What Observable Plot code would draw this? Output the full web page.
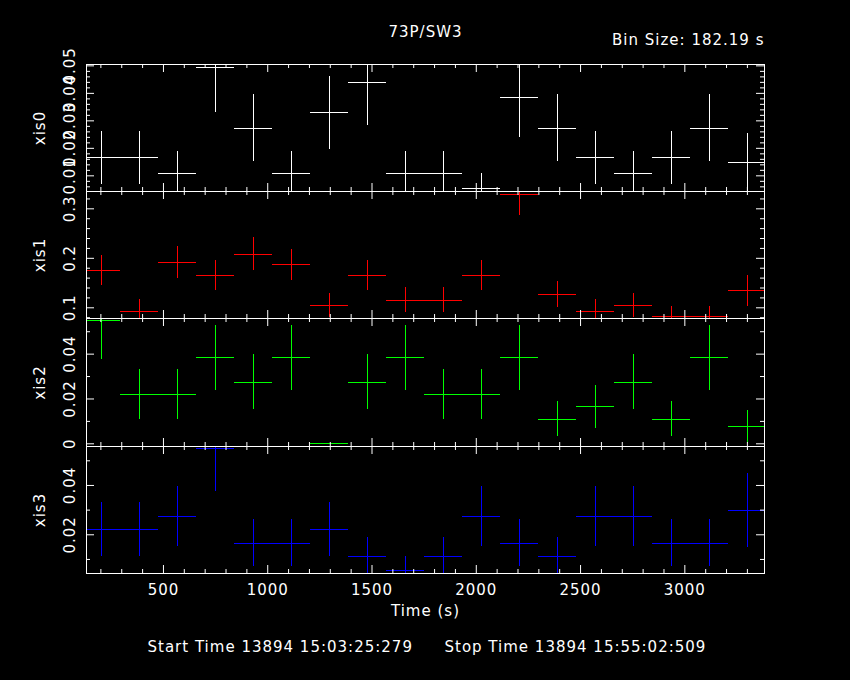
<!DOCTYPE html>
<html>
<head>
<meta charset="utf-8">
<script src="https://cdn.jsdelivr.net/npm/d3@7"></script>
<script src="https://cdn.jsdelivr.net/npm/@observablehq/plot@0.6"></script>
<style>
  html, body { margin: 0; padding: 0; background: #000; }
  #chart { position: relative; width: 850px; height: 680px; background: #000; overflow: hidden; }
</style>
</head>
<body>
<div id="chart"></div>
<script>
// ---------------- data ----------------
const titleText = "73P/SW3";
const binSizeText = "Bin Size: 182.19 s";
const startText = "Start Time 13894 15:03:25:279";
const stopText = "Stop Time 13894 15:55:02:509";
const xTitle = "Time (s)";

const binTimes = [204, 386, 568, 751, 933, 1115, 1297, 1479, 1661, 1844, 2026, 2208, 2390, 2572, 2755, 2937, 3119, 3301];
const binHalfWidth = 91.1;

const xis0Rate = [0.0165, 0.0165, 0.0110, 0.0494, 0.0274, 0.0110, 0.0329, 0.0439, 0.0110, 0.0110, 0.0055, 0.0384, 0.0274, 0.0165, 0.0110, 0.0165, 0.0274, 0.0149];
const xis0Err  = [0.0095, 0.0095, 0.0078, 0.0165, 0.0123, 0.0078, 0.0134, 0.0155, 0.0078, 0.0078, 0.0055, 0.0145, 0.0123, 0.0095, 0.0078, 0.0095, 0.0123, 0.0106];

const xis1Rate = [0.1756, 0.0933, 0.1921, 0.1647, 0.2086, 0.1866, 0.1043, 0.1647, 0.1153, 0.1153, 0.1647, 0.3293, 0.1262, 0.0933, 0.1043, 0.0823, 0.0823, 0.1343];
const xis1Err  = [0.0310, 0.0226, 0.0325, 0.0301, 0.0338, 0.0320, 0.0239, 0.0301, 0.0252, 0.0252, 0.0301, 0.0425, 0.0263, 0.0226, 0.0239, 0.0213, 0.0213, 0.0317];

const xis2Rate = [0.0549, 0.0220, 0.0220, 0.0384, 0.0274, 0.0384, 0.0000, 0.0274, 0.0384, 0.0220, 0.0220, 0.0384, 0.0110, 0.0165, 0.0274, 0.0110, 0.0384, 0.0075];
const xis2Err  = [0.0174, 0.0110, 0.0110, 0.0145, 0.0123, 0.0145, 0.0000, 0.0123, 0.0145, 0.0110, 0.0110, 0.0145, 0.0078, 0.0095, 0.0123, 0.0078, 0.0145, 0.0075];

const xis3Rate = [0.0220, 0.0220, 0.0274, 0.0549, 0.0165, 0.0165, 0.0220, 0.0110, 0.0055, 0.0110, 0.0274, 0.0165, 0.0110, 0.0274, 0.0274, 0.0165, 0.0165, 0.0299];
const xis3Err  = [0.0110, 0.0110, 0.0123, 0.0174, 0.0095, 0.0095, 0.0110, 0.0078, 0.0055, 0.0078, 0.0123, 0.0095, 0.0078, 0.0123, 0.0123, 0.0095, 0.0095, 0.0149];

const xMajor = [500, 1000, 1500, 2000, 2500, 3000];
const xMajorLabels = ["500", "1000", "1500", "2000", "2500", "3000"];
const xMinor = [200, 300, 400, 600, 700, 800, 900, 1100, 1200, 1300, 1400, 1600, 1700, 1800, 1900, 2100, 2200, 2300, 2400, 2600, 2700, 2800, 2900, 3100, 3200, 3300];

const xis0Major = [0.01, 0.02, 0.03, 0.04, 0.05];
const xis0Labels = ["0.01", "0.02", "0.03", "0.04", "0.05"];
const xis0Minor = [0.006, 0.008, 0.012, 0.014, 0.016, 0.018, 0.022, 0.024, 0.026, 0.028, 0.032, 0.034, 0.036, 0.038, 0.042, 0.044, 0.046, 0.048];

const xis1Major = [0.1, 0.2, 0.3];
const xis1Labels = ["0.1", "0.2", "0.3"];
const xis1Minor = [0.08, 0.12, 0.14, 0.16, 0.18, 0.22, 0.24, 0.26, 0.28, 0.32];

const xis2Major = [0, 0.02, 0.04];
const xis2Labels = ["0", "0.02", "0.04"];
const xis2Minor = [0.01, 0.03, 0.05];

const xis3Major = [0.02, 0.04];
const xis3Labels = ["0.02", "0.04"];
const xis3Minor = [0.01, 0.03, 0.05];

// ---------------- layout ----------------
const W = 850, H = 680;
const frameLeft = 86, frameRight = 764;
const panelEdges = [64, 191, 318, 446, 573];
const xDomain = [131, 3382];
const font = "'DejaVu Sans', sans-serif";
const fs = 15;

const panels = [
  {name: "xis0", color: "#ffffff", rate: xis0Rate, err: xis0Err, domain: [0.0043, 0.0505], major: xis0Major, labels: xis0Labels, minor: xis0Minor},
  {name: "xis1", color: "#ff0000", rate: xis1Rate, err: xis1Err, domain: [0.0784, 0.335], major: xis1Major, labels: xis1Labels, minor: xis1Minor},
  {name: "xis2", color: "#00ff00", rate: xis2Rate, err: xis2Err, domain: [-0.0012, 0.0559], major: xis2Major, labels: xis2Labels, minor: xis2Minor},
  {name: "xis3", color: "#0000ff", rate: xis3Rate, err: xis3Err, domain: [0.0043, 0.0558], major: xis3Major, labels: xis3Labels, minor: xis3Minor}
];

const chart = document.getElementById("chart");
const plotW = frameRight - frameLeft;
const txt = {fill: "white", fontSize: fs, fontFamily: font, fontWeight: 400};

panels.forEach((p, i) => {
  const top = panelEdges[i], bottom = panelEdges[i + 1], ph = bottom - top;
  const data = binTimes.map((t, k) => ({t, v: p.rate[k], e: p.err[k]}));
  const marks = [
    Plot.ruleY(data, {y: "v", x1: d => d.t - binHalfWidth, x2: d => d.t + binHalfWidth, stroke: p.color, strokeWidth: 1, clip: true, shapeRendering: "crispEdges"}),
    Plot.ruleX(data, {x: "t", y1: d => d.v - d.e, y2: d => d.v + d.e, stroke: p.color, strokeWidth: 1, clip: true, shapeRendering: "crispEdges"}),
    Plot.frame({stroke: "white", strokeWidth: 1}),
    Plot.tickY(p.major, {y: d => d, stroke: "white", insetRight: plotW - 8}),
    Plot.tickY(p.major, {y: d => d, stroke: "white", insetLeft: plotW - 8}),
    Plot.tickY(p.minor, {y: d => d, stroke: "white", insetRight: plotW - 4}),
    Plot.tickY(p.minor, {y: d => d, stroke: "white", insetLeft: plotW - 4}),
    Plot.tickX(xMajor, {x: d => d, stroke: "white", insetBottom: ph - 8}),
    Plot.tickX(xMajor, {x: d => d, stroke: "white", insetTop: ph - 8}),
    Plot.tickX(xMinor, {x: d => d, stroke: "white", insetBottom: ph - 4}),
    Plot.tickX(xMinor, {x: d => d, stroke: "white", insetTop: ph - 4}),
    Plot.text(p.major, {y: d => d, text: (d, j) => p.labels[j], frameAnchor: "left", rotate: -90, dx: -12, textAnchor: "middle", lineAnchor: "bottom", ...txt}),
    Plot.text([p.name], {text: d => d, frameAnchor: "left", rotate: -90, dx: -42, textAnchor: "middle", lineAnchor: "bottom", ...txt})
  ];
  if (i === 0) {
    marks.push(Plot.text([titleText], {text: d => d, frameAnchor: "top", dy: -28, lineAnchor: "bottom", textAnchor: "middle", ...txt}));
    marks.push(Plot.text([binSizeText], {text: d => d, frameAnchor: "top-right", dy: -20, lineAnchor: "bottom", textAnchor: "end", ...txt}));
  }
  if (i === panels.length - 1) {
    marks.push(Plot.text(xMajor, {x: d => d, text: (d, j) => xMajorLabels[j], frameAnchor: "bottom", dy: 21, lineAnchor: "bottom", textAnchor: "middle", ...txt}));
    marks.push(Plot.text([xTitle], {text: d => d, frameAnchor: "bottom", dy: 42, lineAnchor: "bottom", textAnchor: "middle", ...txt}));
    marks.push(Plot.text([startText], {text: d => d, frameAnchor: "bottom-left", dx: 61, dy: 78, lineAnchor: "bottom", textAnchor: "start", ...txt}));
    marks.push(Plot.text([stopText], {text: d => d, frameAnchor: "bottom-left", dx: 358, dy: 78, lineAnchor: "bottom", textAnchor: "start", ...txt}));
  }
  const svg = Plot.plot({
    width: W, height: H,
    marginLeft: frameLeft, marginRight: W - frameRight,
    marginTop: top, marginBottom: H - bottom,
    x: {domain: xDomain, axis: null},
    y: {domain: p.domain, axis: null},
    style: {background: "none", position: "absolute", left: "0px", top: "0px", color: "white", fontFamily: font, letterSpacing: "1px", overflow: "visible"},
    marks
  });
  chart.appendChild(svg);
});
</script>
</body>
</html>
